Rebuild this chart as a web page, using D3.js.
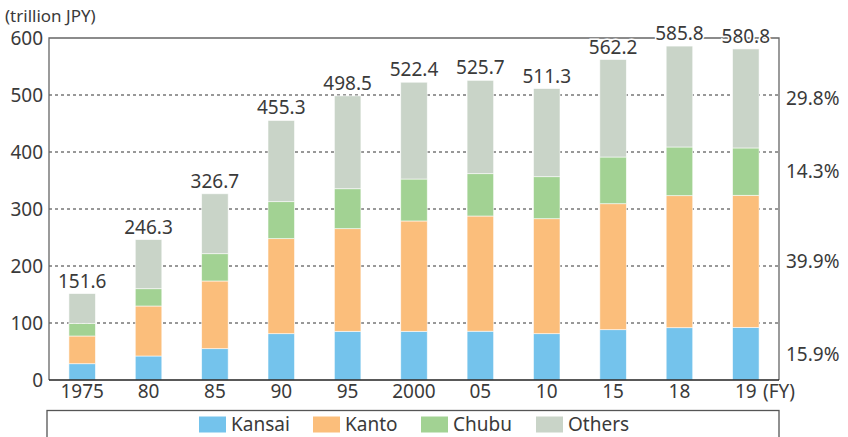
<!DOCTYPE html>
<html><head><meta charset="utf-8">
<script src="https://cdn.jsdelivr.net/npm/d3@7"></script>
<style>
html,body{margin:0;padding:0;background:#fff;}
svg{display:block;font-family:"Noto Sans",sans-serif;}
</style></head>
<body><svg id="c" width="848" height="437"></svg>
<script>
const years = ["1975","80","85","90","95","2000","05","10","15","18","19"];
const seriesNames = ["Kansai","Kanto","Chubu","Others"];
const kansai = [28.6, 42.1, 55.0, 81.3, 85.4, 85.4, 85.6, 81.3, 88.3, 91.8, 92.3];
const kanto  = [48.6, 87.7, 118.7, 166.7, 180.1, 193.6, 202.1, 201.7, 221.0, 231.6, 231.7];
const chubu  = [22.2, 30.4, 47.9, 64.9, 70.1, 73.6, 74.3, 73.7, 81.9, 85.4, 83.1];
const others = [52.2, 86.1, 105.1, 142.4, 162.9, 169.8, 163.7, 154.6, 171.0, 177.0, 173.7];
const totals = ["151.6","246.3","326.7","455.3","498.5","522.4","525.7","511.3","562.2","585.8","580.8"];
const shares2019 = ["15.9%","39.9%","14.3%","29.8%"];
const yTicks = [0,100,200,300,400,500,600];
const colors = ["#74c3ec","#fbbe7b","#a2d293","#c9d4c8"];

const svg = d3.select("#c");
const L = 49, R = 779, T = 38, B = 380;
const x = d3.scaleBand().domain(years).range([L, R]).paddingInner(0.6).paddingOuter(0.3);
const y = d3.scaleLinear().domain([0, 600]).range([B, T]);

const rows = years.map((yr, i) => ({year: yr, Kansai: kansai[i], Kanto: kanto[i], Chubu: chubu[i], Others: others[i], total: totals[i]}));
const stacked = d3.stack().keys(seriesNames)(rows);

// grid
svg.append("g").selectAll("line").data(yTicks.filter(t => t > 0 && t < 600)).join("line")
  .attr("x1", L).attr("x2", R).attr("y1", d => y(d)).attr("y2", d => y(d))
  .attr("stroke", "#333").attr("stroke-width", 1).attr("stroke-dasharray", "3,3");

// frame (left, top, right)
svg.append("path").attr("d", `M${L},${B}V${T}H${R}V${B}`).attr("fill", "none").attr("stroke", "#666").attr("stroke-width", 1.3);

// bars
svg.append("g").selectAll("g").data(stacked).join("g")
  .attr("fill", (d, i) => colors[i])
  .selectAll("rect").data(d => d).join("rect")
  .attr("x", d => x(d.data.year)).attr("width", x.bandwidth())
  .attr("y", d => y(d[1])).attr("height", d => y(d[0]) - y(d[1]))
  .attr("stroke", "#fff").attr("stroke-width", 0.8).attr("stroke-opacity", 0.7);

// bottom axis line
svg.append("line").attr("x1", L).attr("x2", R).attr("y1", B).attr("y2", B).attr("stroke", "#222").attr("stroke-width", 1.5);

// y tick labels
svg.append("g").selectAll("text").data(yTicks).join("text")
  .attr("x", 43).attr("y", d => y(d)).attr("dy", "0.36em").attr("text-anchor", "end")
  .attr("font-size", 19).attr("fill", "#3a3a3a").text(d => d);

svg.append("text").attr("x", 5).attr("y", 22).attr("font-size", 17).attr("fill", "#3a3a3a").text("(trillion JPY)");

// x labels
svg.append("g").selectAll("text").data(years).join("text")
  .attr("x", d => x(d) + x.bandwidth() / 2).attr("y", 398).attr("text-anchor", "middle")
  .attr("font-size", 19).attr("fill", "#3a3a3a").text(d => d);
svg.append("text").attr("x", 763).attr("y", 398).attr("font-size", 19).attr("fill", "#3a3a3a").text("(FY)");

// totals
svg.append("g").selectAll("text").data(rows).join("text")
  .attr("x", d => x(d.year) + x.bandwidth() / 2)
  .attr("y", d => y(+d.total) - 6).attr("text-anchor", "middle")
  .attr("font-size", 19).attr("fill", "#3a3a3a")
  .attr("stroke", "#fff").attr("stroke-width", 3).attr("paint-order", "stroke")
  .text(d => d.total);

// 2019 share labels
const last = years.length - 1;
svg.append("g").selectAll("text").data(stacked).join("text")
  .attr("x", 786).attr("y", d => y((d[last][0] + d[last][1]) / 2)).attr("dy", "0.36em")
  .attr("font-size", 19).attr("fill", "#3a3a3a").text((d, i) => shares2019[i]);

// legend
svg.append("rect").attr("x", 47).attr("y", 410.5).attr("width", 732).attr("height", 40)
  .attr("fill", "none").attr("stroke", "#555").attr("stroke-width", 1.3);
const legX = [199, 313, 421, 536];
const lg = svg.append("g").selectAll("g").data(seriesNames).join("g")
  .attr("transform", (d, i) => `translate(${legX[i]},416.5)`);
lg.append("rect").attr("width", 27).attr("height", 16).attr("fill", (d, i) => colors[i]);
lg.append("text").attr("x", 32).attr("y", 8).attr("dy", "0.36em").attr("font-size", 19).attr("fill", "#3a3a3a").text(d => d);
</script></body></html>
